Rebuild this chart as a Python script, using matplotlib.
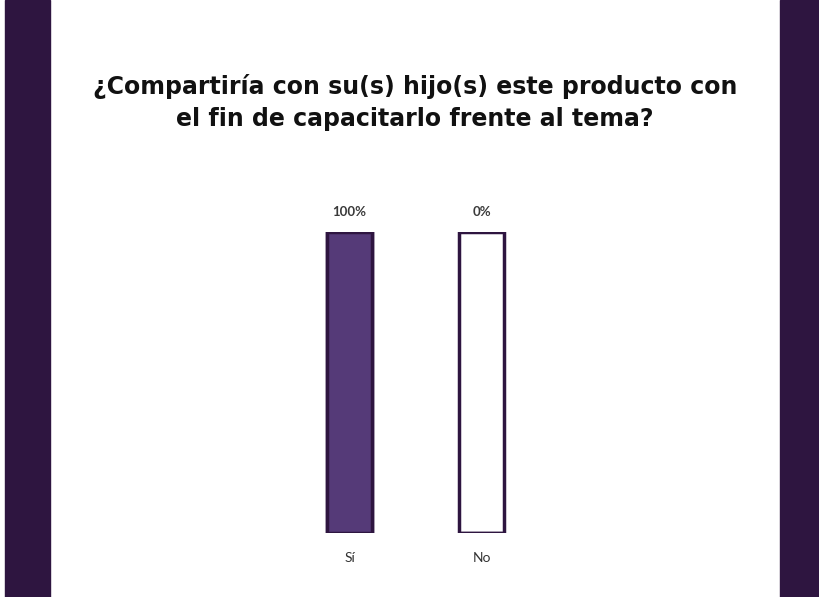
import matplotlib
matplotlib.use('Agg')
import matplotlib.pyplot as plt
from matplotlib.patches import Rectangle

categories = ['Sí', 'No']
values = [100, 0]
value_labels = ['100%', '0%']
title = '¿Compartiría con su(s) hijo(s) este producto con\nel fin de capacitarlo frente al tema?'

dark = '#2e1540'
fill = '#553a78'

fig = plt.figure(figsize=(8.19, 5.97), dpi=100)
fig.patch.set_facecolor('white')

# side bands
fig.add_artist(Rectangle((5 / 819, 0), 45 / 819, 1, transform=fig.transFigure,
                         color=dark, zorder=0))
fig.add_artist(Rectangle((780 / 819, 0), 39 / 819, 1, transform=fig.transFigure,
                         color=dark, zorder=0))

ax = fig.add_axes([283.5 / 819, 64 / 597, 264 / 819, 301 / 597])
x = list(range(len(categories)))
# track (full height) and value bars
ax.bar(x, [100] * len(x), width=0.34, color='white', edgecolor=dark, linewidth=2.5, zorder=1)
ax.bar(x, values, width=0.34, color=fill, edgecolor=dark, linewidth=2.5, zorder=2)

for xi, lab in zip(x, value_labels):
    ax.annotate(lab, (xi, 100), xytext=(0, 10), textcoords='offset points',
                ha='center', va='bottom', fontsize=9.5, fontweight='bold',
                color='#3a3a3a', family='Lato')

ax.set_xlim(-0.5, 1.5)
ax.set_ylim(0, 100)
ax.set_xticks(x)
ax.set_xticklabels(categories, fontsize=10, color='#333333', family='Lato')
ax.tick_params(axis='x', length=0, pad=14)
ax.set_yticks([])
for s in ax.spines.values():
    s.set_visible(False)
ax.patch.set_alpha(0)

fig.text(0.507, 0.828, title, ha='center', va='center', fontsize=17, fontweight='bold',
         color='#111111', family='DejaVu Sans', linespacing=1.4)

fig.savefig('out.png', dpi=100)
